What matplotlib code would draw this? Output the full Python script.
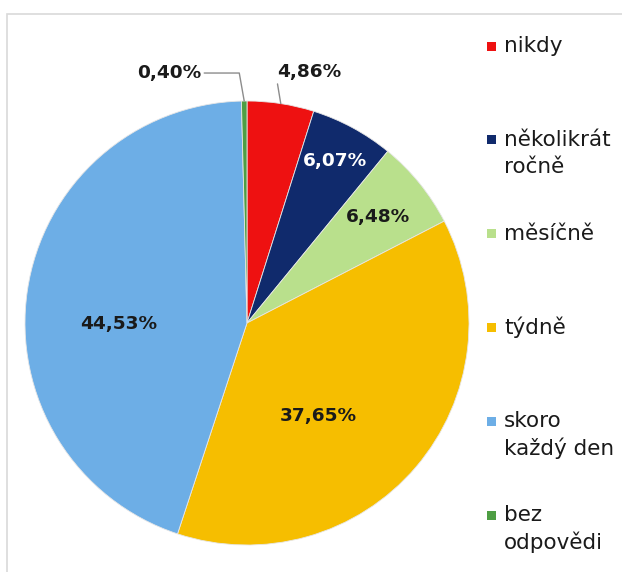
import matplotlib.pyplot as plt
import numpy as np
from matplotlib.patches import Rectangle

kategorie = ['nikdy', 'několikrát\nročně', 'měsíčně', 'týdně', 'skoro\nkaždý den', 'bez\nodpovědi']
podily = [4.86, 6.07, 6.48, 37.65, 44.53, 0.40]
barvy = ['#EE1111', '#102A6C', '#B9E08C', '#F6BE00', '#6DAEE6', '#4E9E44']
barvy_textu = ['#1a1a1a', 'white', '#1a1a1a', '#1a1a1a', '#1a1a1a', '#1a1a1a']

# vzdalenost popisku od stredu a posun uhlu (vnitrni popisky)
vzdalenosti = [None, 0.83, 0.76, 0.53, 0.58, None]
posuny = [0, 0, 0, -12, 9, 0]

fig = plt.figure(figsize=(6.22, 5.72), dpi=100)
fig.patches.append(Rectangle((7 / 622, -0.05), 1.1, (572 - 14) / 572 + 0.05,
                             transform=fig.transFigure, fill=False,
                             edgecolor='#d9d9d9', linewidth=1.2))

ax = fig.add_axes([25 / 622, 27 / 572, 444 / 622, 444 / 572])
wedges, _ = ax.pie(podily, colors=barvy, startangle=90, counterclock=False,
                   wedgeprops=dict(edgecolor='#e6e6e6', linewidth=0.6))
ax.set_xlim(-1, 1)
ax.set_ylim(-1, 1)
ax.set_aspect('equal')


def popisek(v):
    return f'{v:.2f}'.replace('.', ',') + '%'


for w, v, d, p, c in zip(wedges, podily, vzdalenosti, posuny, barvy_textu):
    if d is None:
        continue
    uhel = np.deg2rad((w.theta1 + w.theta2) / 2 + p)
    ax.text(d * np.cos(uhel), d * np.sin(uhel), popisek(v), ha='center', va='center',
            fontsize=13.3, fontweight='bold', color=c)

# male vysece s vodici carou
u0 = np.deg2rad((wedges[0].theta1 + wedges[0].theta2) / 2)
ax.annotate(popisek(podily[0]), xy=(np.cos(u0), np.sin(u0)), xytext=(0.28, 1.13),
            ha='center', va='center', fontsize=13.3, fontweight='bold', color='#1a1a1a',
            arrowprops=dict(arrowstyle='-', color='#8c8c8c', lw=1, relpos=(0.0, 0.0),
                            shrinkA=0, shrinkB=0))
u5 = np.deg2rad((wedges[5].theta1 + wedges[5].theta2) / 2)
ax.annotate(popisek(podily[5]), xy=(np.cos(u5), np.sin(u5)), xytext=(-0.35, 1.126),
            ha='center', va='center', fontsize=13.3, fontweight='bold', color='#1a1a1a',
            arrowprops=dict(arrowstyle='-', color='#8c8c8c', lw=1, relpos=(1.0, 0.5),
                            connectionstyle='angle,angleA=0,angleB=100,rad=0',
                            shrinkA=0, shrinkB=0))

# legenda
radky_y = np.linspace(46, 515, len(kategorie))
for nazev, barva, y in zip(kategorie, barvy, radky_y):
    fig.patches.append(Rectangle((487 / 622, (572 - y - 4.5) / 572), 9 / 622, 9 / 572,
                                 transform=fig.transFigure, facecolor=barva,
                                 edgecolor='none'))
    for i, radek in enumerate(nazev.split('\n')):
        fig.text(504 / 622, (572 - y - 27 * i) / 572, radek, ha='left', va='center',
                 fontsize=15.5, color='#1a1a1a')

fig.savefig('out.png', dpi=100)
